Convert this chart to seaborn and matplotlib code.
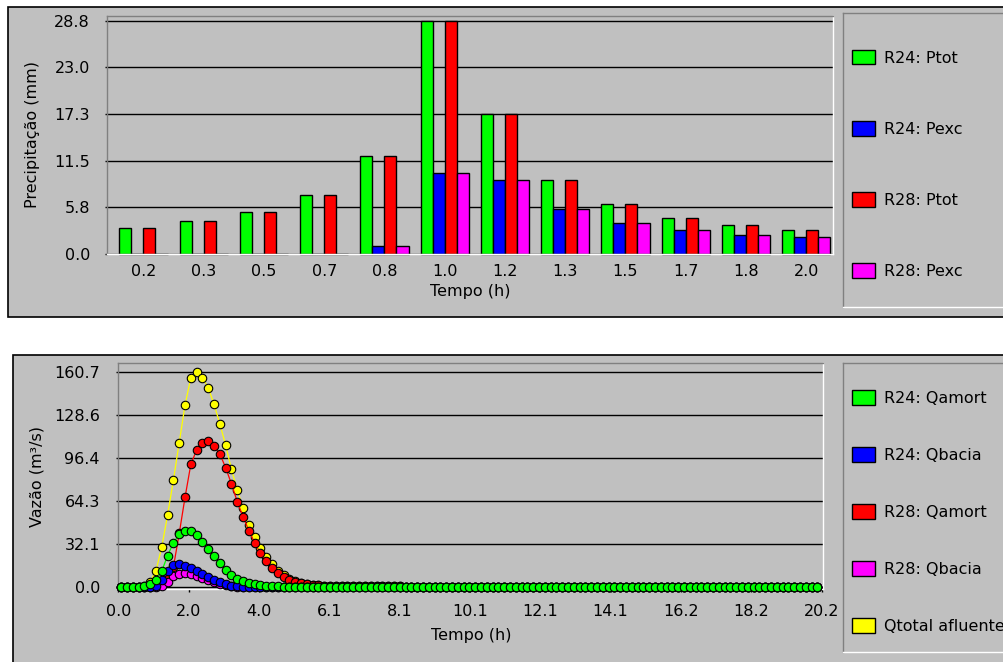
import numpy as np
import pandas as pd
import matplotlib
matplotlib.use("Agg")
import matplotlib.pyplot as plt
from matplotlib.patches import Rectangle, Patch
from matplotlib.ticker import FormatStrFormatter
import seaborn as sns

# ---------------- data ----------------
tempo_chuva = ["0.2", "0.3", "0.5", "0.7", "0.8", "1.0", "1.2", "1.3", "1.5", "1.7", "1.8", "2.0"]
r24_ptot = [3.17, 4.07, 5.15, 7.24, 12.14, 28.8, 17.25, 9.14, 6.17, 4.44, 3.58, 2.96]
r24_pexc = [0.0, 0.0, 0.0, 0.0, 1.03, 10.04, 9.14, 5.56, 3.87, 3.00, 2.35, 2.14]
r28_ptot = [3.17, 4.07, 5.15, 7.24, 12.14, 28.8, 17.25, 9.14, 6.17, 4.44, 3.58, 2.96]
r28_pexc = [0.0, 0.0, 0.0, 0.0, 1.03, 10.04, 9.14, 5.56, 3.87, 3.00, 2.35, 2.14]
precip_names = ["R24: Ptot", "R24: Pexc", "R28: Ptot", "R28: Pexc"]
precip_colors = ["#00ff00", "#0000ff", "#ff0000", "#ff00ff"]

n_vazao = 121
tempo_vazao = (np.arange(n_vazao) + 0.5) / 6.0   # 10-min steps (h)

r24_qamort = ([0, 0, 0, 0, 0.5, 2, 5, 12, 23.5, 33, 39.5, 42, 42, 39, 34, 28.5, 23, 18,
               12.7, 8.8, 6, 4.3, 3, 2, 1.4, 1.0, 0.7, 0.5, 0.3, 0.2])
r24_qamort = r24_qamort + [0.0] * (n_vazao - len(r24_qamort))

r24_qbacia = ([0, 0, 0, 0, 0, 0, 1, 5, 12, 16.5, 17.5, 15.7, 14, 12, 9.7, 7.2, 5.2, 3.5,
               2.1, 1.0, 0.4, 0.2])
r24_qbacia = r24_qbacia + [0.0] * (n_vazao - len(r24_qbacia))

r28_qamort = ([0, 0, 0, 0, 0, 0, 0.5, 2, 6, 15, 40, 67, 91.7, 102.4, 107.9, 109.1, 105.4,
               99.4, 89.2, 77, 63.8, 52.5, 42.1, 33.1, 25.2, 19.5, 14.5, 10.5, 7.5, 5.5,
               4.0, 2.7, 2.0, 1.5, 1.2, 1.0, 0.8, 0.7, 0.7, 0.6, 0.6, 0.6, 0.5, 0.5, 0.5,
               0.5, 0.4, 0.4, 0.4])
r28_qamort = r28_qamort + [0.0] * (n_vazao - len(r28_qamort))

r28_qbacia = ([0, 0, 0, 0, 0, 0, 0, 1, 4, 8, 10, 10.5, 9.5, 8, 6.5, 5, 3.5, 2.3, 1.4,
               0.7, 0.3])
r28_qbacia = r28_qbacia + [0.0] * (n_vazao - len(r28_qbacia))

qtotal = ([0, 0, 0, 0.2, 1, 4, 12.2, 30, 54, 80, 108, 136, 156.4, 160.7, 156.4, 149,
           136.5, 122, 106, 88, 72.5, 59, 46, 37.6, 29, 22.5, 17, 12.3, 8.7, 6.2, 4.4,
           3.0, 2.2, 1.6, 1.3, 1.0, 0.8, 0.7, 0.7, 0.6, 0.6, 0.6, 0.5, 0.5, 0.5, 0.5,
           0.4, 0.4, 0.4])
qtotal = qtotal + [0.0] * (n_vazao - len(qtotal))

vazao_names = ["R24: Qamort", "R24: Qbacia", "R28: Qamort", "R28: Qbacia", "Qtotal afluente"]
vazao_colors = ["#00ff00", "#0000ff", "#ff0000", "#ff00ff", "#ffff00"]
vazao_series = [r24_qamort, r24_qbacia, r28_qamort, r28_qbacia, qtotal]
draw_order = [4, 2, 3, 1, 0]   # yellow at the back, green on top

# ---------------- style ----------------
plt.rcParams["font.family"] = ["DejaVu Sans"]
FS = 11.5
GRAY = "#c0c0c0"
W, H = 1004.0, 662.0

def fx(px):
    return px / W

def fy(py):
    return 1.0 - py / H

fig = plt.figure(figsize=(10.04, 6.62), dpi=100, facecolor="white")

# panels
fig.add_artist(Rectangle((fx(8.3), fy(316.7)), fx(1010 - 8.3), (316.7 - 6.7) / H,
                         transform=fig.transFigure, fc=GRAY, ec="black", lw=1.2, zorder=-5))
fig.add_artist(Rectangle((fx(12.7), fy(668)), fx(1010 - 12.7), (668 - 355) / H,
                         transform=fig.transFigure, fc=GRAY, ec="black", lw=1.2, zorder=-5))

def style_frame(ax):
    ax.set_facecolor(GRAY)
    for s in ["left", "top"]:
        ax.spines[s].set_color("#808080")
        ax.spines[s].set_linewidth(1.0)
    for s in ["right", "bottom"]:
        ax.spines[s].set_color("white")
        ax.spines[s].set_linewidth(1.0)

# ---------------- top: precipitation ----------------
ax1 = fig.add_axes([fx(107.3), fy(254), (832.7 - 107.3) / W, (254 - 15.7) / H])
style_frame(ax1)
df_p = pd.DataFrame({
    "Tempo": tempo_chuva * 4,
    "Precip": r24_ptot + r24_pexc + r28_ptot + r28_pexc,
    "Serie": sum([[n] * len(tempo_chuva) for n in precip_names], []),
})
sns.barplot(data=df_p, x="Tempo", y="Precip", hue="Serie", order=tempo_chuva,
            hue_order=precip_names, palette=precip_colors, saturation=1,
            edgecolor="black", linewidth=1.0, width=0.8, errorbar=None,
            legend=False, ax=ax1)
for p in ax1.patches:
    p.set_clip_on(False)
ax1.set_xlim(-0.6, 11.44)
ax1.set_ylim(0, 29.42)
ax1.set_yticks(np.linspace(0, 28.8, 6))
ax1.yaxis.set_major_formatter(FormatStrFormatter("%.1f"))
ax1.yaxis.grid(True, color="black", lw=1.0)
ax1.set_axisbelow(True)
ax1.tick_params(axis="y", length=1.8, width=1.0, color="black", pad=10.6, labelsize=FS)
ax1.tick_params(axis="x", length=0, pad=7.5, labelsize=FS)
ax1.set_xlabel("Tempo (h)", fontsize=FS, labelpad=3)
ax1.set_ylabel("Precipitação (mm)", fontsize=FS)
ax1.yaxis.set_label_coords(-0.1038, 0.5)
ax1.yaxis.label.set_va("center")

leg1ax = fig.add_axes([fx(843.3), fy(307.3), (1010 - 843.3) / W, (307.3 - 13) / H])
style_frame(leg1ax)
leg1ax.set_xticks([]); leg1ax.set_yticks([])
h1 = [Patch(fc=c, ec="black", lw=1.0) for c in precip_colors]
leg1ax.legend(h1, precip_names, loc="center left", bbox_to_anchor=(0.052, 0.485),
              frameon=False, fontsize=FS, handlelength=1.44, handleheight=1.0,
              handletextpad=0.55, labelspacing=3.47, borderpad=0, borderaxespad=0)

# ---------------- bottom: discharge ----------------
ax2 = fig.add_axes([fx(118.3), fy(589), (823.3 - 118.3) / W, (589 - 363.3) / H])
style_frame(ax2)
for k, idx in enumerate(draw_order):
    sns.lineplot(x=tempo_vazao, y=vazao_series[idx], color=vazao_colors[idx],
                 marker="o", markersize=6.1, markeredgecolor="black",
                 markeredgewidth=0.8, linewidth=0.9, estimator=None,
                 zorder=3 + k, clip_on=False, ax=ax2)
ax2.set_xlim(0, 20.25)
ax2.set_ylim(-1.5, 167.2)
ax2.set_xticks(np.linspace(0, 20.2, 11))
ax2.set_yticks(np.linspace(0, 160.7, 6))
ax2.xaxis.set_major_formatter(FormatStrFormatter("%.1f"))
ax2.yaxis.set_major_formatter(FormatStrFormatter("%.1f"))
ax2.yaxis.grid(True, color="black", lw=1.0)
ax2.set_axisbelow(True)
ax2.tick_params(axis="y", length=1.8, width=1.0, color="black", pad=11.4, labelsize=FS)
ax2.tick_params(axis="x", length=2.0, width=1.0, color="black", pad=8.6, labelsize=FS)
ax2.set_xlabel("Tempo (h)", fontsize=FS, labelpad=6.9)
ax2.set_ylabel("Vazão (m³/s)", fontsize=FS)
ax2.yaxis.set_label_coords(-0.116, 0.5)
ax2.yaxis.label.set_va("center")

leg2ax = fig.add_axes([fx(843.3), fy(651.7), (1010 - 843.3) / W, (651.7 - 363.3) / H])
style_frame(leg2ax)
leg2ax.set_xticks([]); leg2ax.set_yticks([])
h2 = [Patch(fc=c, ec="black", lw=1.0) for c in vazao_colors]
leg2ax.legend(h2, vazao_names, loc="center left", bbox_to_anchor=(0.052, 0.484),
              frameon=False, fontsize=FS, handlelength=1.44, handleheight=1.0,
              handletextpad=0.55, labelspacing=2.59, borderpad=0, borderaxespad=0)

fig.savefig("out.png", dpi=100, facecolor="white")
